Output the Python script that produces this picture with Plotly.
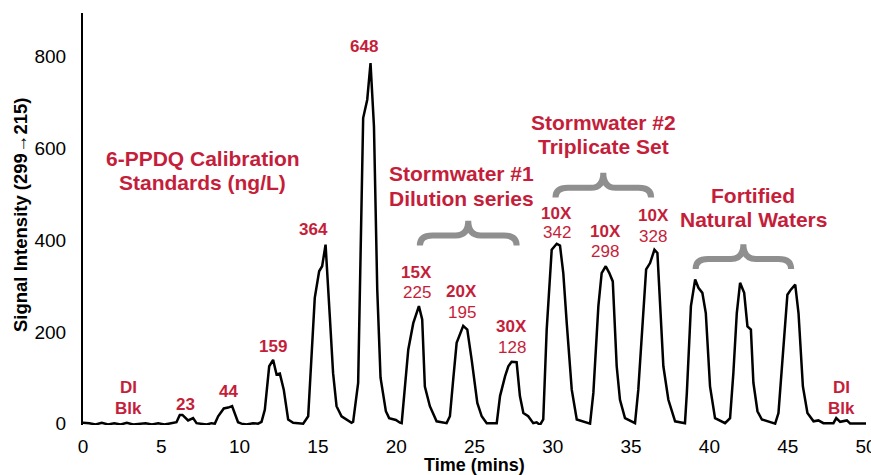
import plotly.graph_objects as go

# ---------------- data ----------------
time_min = [
    0.0, 0.4, 0.8, 1.2, 1.6, 2.0, 2.4, 2.8, 3.2, 3.6, 4.0, 4.4, 4.8, 5.2,
    5.54, 5.97, 6.18, 6.35, 6.71, 7.03, 7.25, 7.6, 7.9, 8.2,
    8.42, 8.63, 8.99, 9.27, 9.52, 9.9, 10.12, 10.44, 10.86, 11.18,
    11.4, 11.61, 11.89, 12.14, 12.36, 12.57, 12.82, 13.1, 13.42, 14.06,
    14.38, 14.8, 15.08, 15.27, 15.49, 15.76, 15.97, 16.19, 16.51, 17.15,
    17.25, 17.57, 17.89, 18.15, 18.36, 18.58, 18.79, 19.0, 19.34, 19.55, 19.98, 20.24,
    20.35, 20.56, 20.77, 21.09, 21.45, 21.66, 21.83, 22.15, 22.58, 23.22,
    23.43, 23.64, 23.86, 24.28, 24.54, 24.82, 25.18, 25.46, 25.78, 26.42,
    26.63, 26.95, 27.16, 27.37, 27.69, 27.9, 28.12, 28.43, 28.75, 28.97, 29.18,
    29.39, 29.61, 29.93, 30.25, 30.46, 30.67, 30.89, 31.21, 31.53, 31.95, 32.38,
    32.59, 32.91, 33.12, 33.38, 33.61, 33.83, 34.08, 34.29, 34.61, 35.25,
    35.46, 35.96, 36.21, 36.49, 36.68, 36.85, 37.06, 37.38, 37.81, 38.44,
    38.56, 38.82, 39.09, 39.3, 39.55, 39.77, 40.04, 40.36, 41.0, 41.32,
    41.53, 41.75, 41.96, 42.22, 42.43, 42.65, 42.81, 43.07, 43.35, 44.2,
    44.41, 44.98, 45.2, 45.48, 45.69, 45.97, 46.26, 46.65, 46.96, 47.28,
    47.92, 48.1, 48.35, 48.78, 48.99, 49.5, 50.0,
]
signal = [
    2, 1, -2, 2, -2, 1, -2, 2, -2, -1, 1, -2, 1, -2,
    0, 3, 19, 19, 7, 12, 1, 0, -2, 1,
    0, 16, 33, 35, 38, 3, 0, -2, 1, 0,
    4, 30, 125, 139, 107, 109, 74, 9, 2, 0,
    16, 274, 332, 343, 390, 234, 110, 38, 16, 2,
    4, 89, 666, 706, 786, 648, 292, 100, 27, 12, 8, 2,
    1, 81, 161, 219, 256, 227, 81, 38, 5, 1,
    16, 96, 176, 213, 205, 139, 45, 16, 1, 1,
    60, 103, 125, 135, 134, 60, 23, 16, 1, 3, -3,
    9, 205, 379, 392, 388, 328, 219, 74, 9, 5, 0,
    67, 256, 328, 343, 328, 310, 125, 52, 12, 1,
    74, 336, 350, 379, 372, 270, 125, 52, 5, 1,
    67, 256, 314, 296, 285, 241, 81, 12, 1, 12,
    110, 241, 307, 285, 212, 205, 89, 27, 9, 0,
    23, 281, 292, 303, 241, 81, 23, 5, 7, 1,
    1, 12, 4, 7, 0, 0, 0,
]

x_ticks = [0, 5, 10, 15, 20, 25, 30, 35, 40, 45, 50]
y_ticks = [0, 200, 400, 600, 800]

# labels: (time, signal level, text, bold, font size)
label_t = [2.88, 2.88, 6.54, 9.31, 12.14, 14.74, 17.94,
           7.65, 7.65, 24.18, 24.18,
           21.3, 21.3, 24.18, 24.18, 27.37, 27.37,
           30.25, 30.25, 33.34, 33.34, 36.42, 36.42,
           33.23, 33.23, 42.81, 42.81, 48.46, 48.46]
label_v = [79, 34, 41, 69, 168, 423, 822,
           578, 525, 546, 490,
           330, 285, 288, 243, 211, 166,
           459, 416, 419, 376, 453, 408,
           657, 604, 497, 445, 78, 32]
label_text = ["DI", "Blk", "23", "44", "159", "364", "648",
              "6-PPDQ Calibration", "Standards (ng/L)",
              "Stormwater #1", "Dilution series",
              "15X", "225", "20X", "195", "30X", "128",
              "10X", "342", "10X", "298", "10X", "328",
              "Stormwater #2", "Triplicate Set",
              "Fortified", "Natural Waters", "DI", "Blk"]
label_bold = [1, 1, 1, 1, 1, 1, 1,
              1, 1, 1, 1,
              1, 0, 1, 0, 1, 0,
              1, 0, 1, 0, 1, 0,
              1, 1, 1, 1, 1, 1]
label_size = [17, 17, 17, 17, 17, 17, 17,
              21, 21, 21, 21,
              17, 17, 17, 17, 17, 17,
              17, 17, 17, 17, 17, 17,
              21, 21, 21, 21, 17, 17]

# curly braces: left end, right end (minutes), tip, arm, end levels (signal units)
brace_left = [21.51, 30.17, 39.12]
brace_right = [27.69, 36.28, 45.22]
brace_tip = [442, 547, 391]
brace_arm = [410, 514, 359]
brace_end = [388, 493, 337]

RED = "#c41e3a"
GRAY = "#8f8f8f"
FONT = "Liberation Sans, Arial, sans-serif"

fig = go.Figure()
fig.add_trace(go.Scatter(
    x=time_min, y=signal, mode="lines",
    line=dict(color="black", width=2.5),
    hoverinfo="skip", showlegend=False,
))

for t, v, txt, b, s in zip(label_t, label_v, label_text, label_bold, label_size):
    fig.add_annotation(
        x=t, y=v, xref="x", yref="y",
        text=f"<b>{txt}</b>" if b else txt,
        showarrow=False, xanchor="center", yanchor="middle",
        font=dict(family=FONT, size=s, color=RED),
    )

for xl, xr, yt, ya, ye in zip(brace_left, brace_right, brace_tip, brace_arm, brace_end):
    w = xr - xl
    xm = (xl + xr) / 2
    q = 0.13 * w
    path = (f"M {xl},{ye} Q {xl},{ya} {xl+q},{ya} "
            f"L {xm-q},{ya} Q {xm},{ya} {xm},{yt} "
            f"Q {xm},{ya} {xm+q},{ya} "
            f"L {xr-q},{ya} Q {xr},{ya} {xr},{ye}")
    fig.add_shape(type="path", path=path, xref="x", yref="y",
                  line=dict(color=GRAY, width=6), fillcolor="rgba(0,0,0,0)")

# axis titles placed as annotations (paper coords, pixel offsets)
fig.add_annotation(x=0.5, y=0, xref="paper", yref="paper", yshift=-40,
                   text="<b>Time (mins)</b>", showarrow=False,
                   xanchor="center", yanchor="middle",
                   font=dict(family=FONT, size=18, color="black"))
fig.add_annotation(x=0, y=0.5, xref="paper", yref="paper", xshift=-63, yshift=4,
                   text="<b>Signal Intensity (299→215)</b>", showarrow=False,
                   textangle=-90, xanchor="center", yanchor="middle",
                   font=dict(family=FONT, size=18.5, color="black"))

fig.update_layout(
    width=871, height=475,
    margin=dict(l=83, r=5, t=13, b=50, autoexpand=False),
    paper_bgcolor="white", plot_bgcolor="white",
    font=dict(family=FONT, color="black"),
    showlegend=False,
)
fig.update_xaxes(
    range=[0, 50], tickvals=x_ticks, ticktext=[str(v) for v in x_ticks],
    showgrid=False, zeroline=False, showline=False, automargin=False,
    ticks="outside", ticklen=4, tickcolor="rgba(0,0,0,0)",
    ticklabeloverflow="allow",
    tickfont=dict(size=19, family=FONT, color="black"),
)
fig.update_yaxes(
    range=[-3, 895], tickvals=y_ticks, ticktext=[str(v) for v in y_ticks],
    showgrid=False, zeroline=False, showline=True, linecolor="black", linewidth=2,
    automargin=False,
    ticks="outside", ticklen=11, tickcolor="rgba(0,0,0,0)",
    tickfont=dict(size=19, family=FONT, color="black"),
)

fig.write_html(
    "out.html",
    config={"displayModeBar": False},
    post_script="document.body.style.margin='0';document.body.style.overflow='hidden';",
)
